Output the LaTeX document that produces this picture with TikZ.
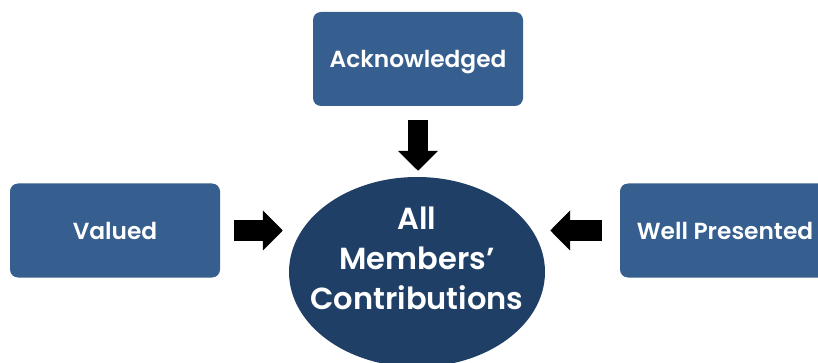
\documentclass[tikz,border=0pt]{standalone}
\usepackage{fontspec}
\setmainfont{Poppins}[BoldFont={* SemiBold}]
\usetikzlibrary{shapes.geometric,arrows.meta}

\definecolor{boxblue}{RGB}{54,94,142}
\definecolor{hubblue}{RGB}{31,63,102}

\tikzset{
  box/.style={rectangle, rounded corners=8pt, fill=boxblue, text=white,
    minimum width=210pt, minimum height=94pt, text depth=0pt,
    font=\fontsize{23.3}{28}\selectfont\bfseries},
  hub/.style={ellipse, fill=hubblue, text=white, inner sep=0pt,
    minimum width=256pt, minimum height=190pt,
    font=\fontsize{30.5}{40}\selectfont\bfseries},
  push/.style={black, line width=20pt, -{Triangle[width=39pt,length=20pt]}}
}

\begin{document}
\begin{tikzpicture}[x=1pt,y=-1pt]
    \useasboundingbox (0,0) rectangle (818,363);

    % Centre ellipse (text kept from sizing the shape)
    \node[hub] (members) at (417,272)
        {\raisebox{4pt}[0pt][0pt]{\makebox[0pt]{\begin{tabular}{@{}c@{}}All\\Members’\\Contributions\end{tabular}}}};

    % The three boxes round it
    \node[box] (ack) at (418,59) {Acknowledged};
    \node[box] (valued) at (115,230.5) {Valued};
    \node[box] (well) at (725,230.5) {Well Presented};

    % Block arrows pointing into the ellipse
    \draw[push, shorten <=14pt, shorten >=6pt] (ack.south) -- (ack.south |- members.north);
    \draw[push, shorten <=14pt, shorten >=6pt] (valued.east) -- (valued.east -| members.west);
    \draw[push, shorten <=18pt, shorten >=5pt] (well.west) -- (well.west -| members.east);

\end{tikzpicture}
\end{document}
